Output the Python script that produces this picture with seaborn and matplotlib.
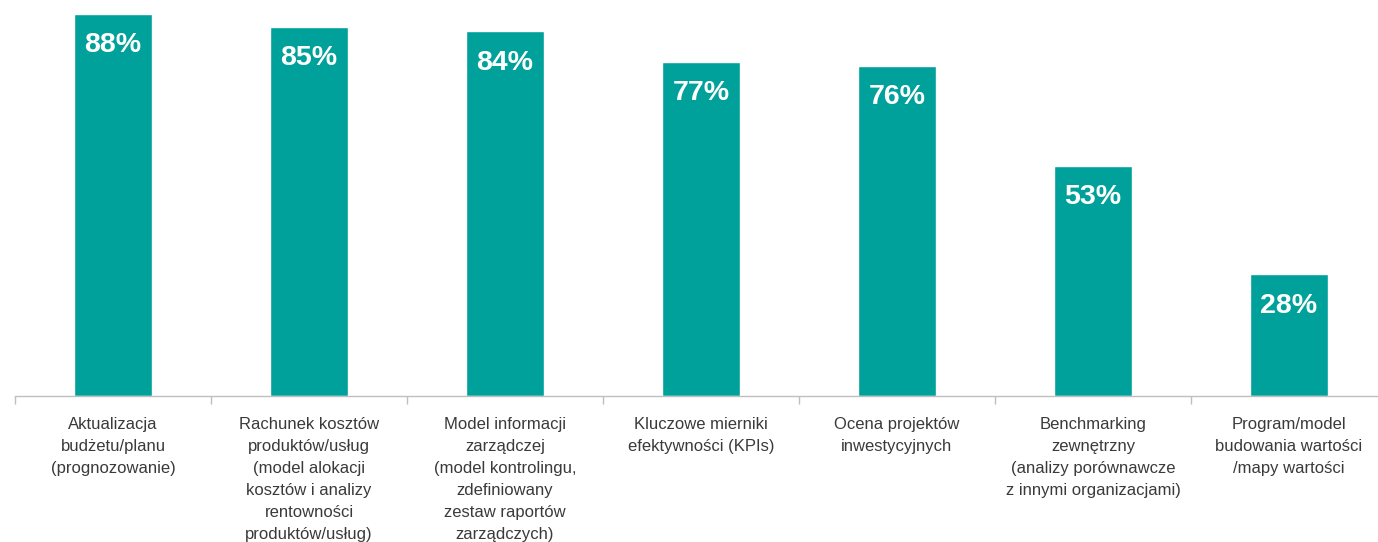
import matplotlib
matplotlib.use("Agg")
import matplotlib.pyplot as plt
import seaborn as sns

categories = [
    "Aktualizacja\nbudżetu/planu\n(prognozowanie)",
    "Rachunek kosztów\nproduktów/usług\n(model alokacji\nkosztów i analizy\nrentowności\nproduktów/usług)",
    "Model informacji\nzarządczej\n(model kontrolingu,\nzdefiniowany\nzestaw raportów\nzarządczych)",
    "Kluczowe mierniki\nefektywności (KPIs)",
    "Ocena projektów\ninwestycyjnych",
    "Benchmarking\nzewnętrzny\n(analizy porównawcze\nz innymi organizacjami)",
    "Program/model\nbudowania wartości\n/mapy wartości",
]
values = [88, 85, 84, 77, 76, 53, 28]

BAR_COLOR = "#00A19A"
AXIS_COLOR = "#BFBFBF"
TEXT_COLOR = "#3A3A3A"

sns.set_theme(style="white")
plt.rcParams["font.family"] = ["Liberation Sans", "DejaVu Sans"]

W, H = 1378, 542
fig = plt.figure(figsize=(W / 100, H / 100), dpi=100)
ax = fig.add_axes([15 / W, 146 / H, 1372 / W, 434 / H])

sns.barplot(x=categories, y=values, color=BAR_COLOR, saturation=1,
            width=0.4, ax=ax)

ax.set_xlim(-0.5, 6.5)
ax.set_ylim(0, 100)
ax.set_yticks([])
ax.set_xlabel("")
ax.set_ylabel("")

for side in ("top", "right", "left"):
    ax.spines[side].set_visible(False)
ax.spines["bottom"].set_color(AXIS_COLOR)
ax.spines["bottom"].set_linewidth(1.0)

# category labels centred under bars, separators at category boundaries
ax.set_xticks(range(len(categories)))
ax.set_xticklabels(categories, fontsize=12, color=TEXT_COLOR, linespacing=1.58)
ax.tick_params(axis="x", which="major", bottom=False, length=0, pad=15)
ax.set_xticks([i - 0.5 for i in range(len(categories) + 1)], minor=True)
ax.tick_params(axis="x", which="minor", bottom=True, length=5.5, width=1.0,
               color=AXIS_COLOR, direction="out")

# value labels inside the top of each bar
for i, v in enumerate(values):
    ax.annotate(f"{v}%", (i, v), xytext=(0, -22.5), textcoords="offset points",
                ha="center", va="center", color="white",
                fontsize=20.5, fontweight="bold")

fig.savefig("out.png", dpi=100)
